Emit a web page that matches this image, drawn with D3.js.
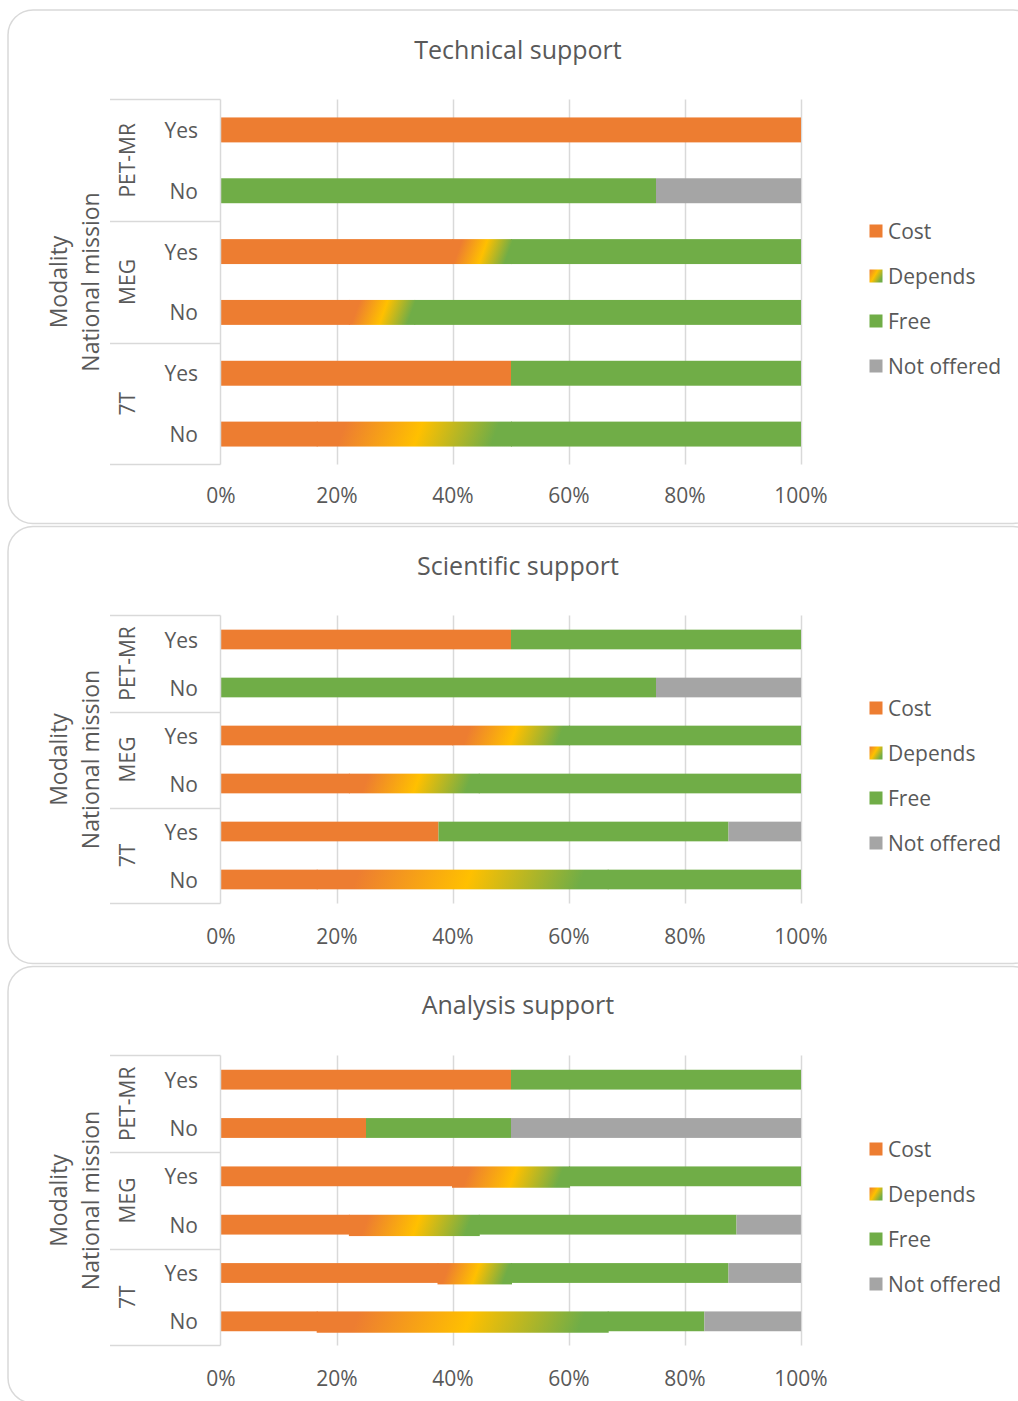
<!DOCTYPE html>
<html>
<head>
<meta charset="utf-8">
<script src="https://cdn.jsdelivr.net/npm/d3@7"></script>
<style>
  html, body { margin: 0; padding: 0; background: #fff; }
  svg { display: block; }
  text { font-family: "Open Sans", "Noto Sans", sans-serif; fill: #595959; }
</style>
</head>
<body>
<svg id="chart" width="1018" height="1401"></svg>
<script>
// ---------------- DATA ----------------
const modalities = ["PET-MR", "MEG", "7T"];
const missions = ["Yes", "No"];
const seriesNames = ["Cost", "Depends", "Free", "Not offered"];
const xTicks = [0, 20, 40, 60, 80, 100];
const xTickLabels = ["0%", "20%", "40%", "60%", "80%", "100%"];
const titles = ["Technical support", "Scientific support", "Analysis support"];
const yTitleOuter = "Modality";
const yTitleInner = "National mission";

// rows in order: PET-MR Yes, PET-MR No, MEG Yes, MEG No, 7T Yes, 7T No
const technicalCost        = [100, 0, 40, 22.22, 50, 16.67];
const technicalDepends     = [0, 0, 10, 11.11, 0, 33.33];
const technicalFree        = [0, 75, 50, 66.67, 50, 50];
const technicalNotOffered  = [0, 25, 0, 0, 0, 0];

const scientificCost       = [50, 0, 40, 22.22, 37.5, 16.67];
const scientificDepends    = [0, 0, 20, 22.22, 0, 50];
const scientificFree       = [50, 75, 40, 55.56, 50, 33.33];
const scientificNotOffered = [0, 25, 0, 0, 12.5, 0];

const analysisCost         = [50, 25, 40, 22.22, 37.5, 16.67];
const analysisDepends      = [0, 0, 20, 22.22, 12.5, 50];
const analysisFree         = [50, 25, 40, 44.44, 37.5, 16.67];
const analysisNotOffered   = [0, 50, 0, 11.11, 12.5, 16.67];

const panelSeries = [
  [technicalCost, technicalDepends, technicalFree, technicalNotOffered],
  [scientificCost, scientificDepends, scientificFree, scientificNotOffered],
  [analysisCost, analysisDepends, analysisFree, analysisNotOffered]
];

// ---------------- STYLE / LAYOUT ----------------
const COLORS = { "Cost": "#ED7D31", "Free": "#70AD47", "Not offered": "#A5A5A5" };
const ORANGE = "#ED7D31", YELLOW = "#FFC000", GREEN = "#70AD47";
const GRID = "#D9D9D9";
const LABEL_SIZE = 21, TITLE_SIZE = 25, AXIS_TITLE_SIZE = 23;

const layouts = [
  { boxTop: 10,    boxBottom: 523.5, titleY: 50,   plotTop: 99.5,  plotBottom: 464.5, tickY: 495,  legendY: 231,  dependsExtra: 0 },
  { boxTop: 526.5, boxBottom: 963.5, titleY: 566,  plotTop: 615.5, plotBottom: 903.5, tickY: 936,  legendY: 708,  dependsExtra: 0 },
  { boxTop: 966.5, boxBottom: 1403,  titleY: 1005, plotTop: 1055.5,plotBottom: 1345.5,tickY: 1378, legendY: 1149, dependsExtra: 1.5 }
];

const svg = d3.select("#chart");
const defs = svg.append("defs");
const x = d3.scaleLinear().domain([0, 100]).range([221, 801]);

const rowKeys = [];
modalities.forEach(m => missions.forEach(n => rowKeys.push(m + "|" + n)));

function addStops(g) {
  g.append("stop").attr("offset", "0").attr("stop-color", ORANGE);
  g.append("stop").attr("offset", "0.14").attr("stop-color", ORANGE);
  g.append("stop").attr("offset", "0.52").attr("stop-color", YELLOW);
  g.append("stop").attr("offset", "0.9").attr("stop-color", GREEN);
  g.append("stop").attr("offset", "1").attr("stop-color", GREEN);
}

let gradId = 0;
function makeGradient(x0, y0, w, h) {
  const theta = 20 * Math.PI / 180;
  const dx = Math.cos(theta), dy = Math.sin(theta);
  const cx = x0 + w / 2, cy = y0 + h / 2;
  const s = (w / 2) * dx + (h / 2) * dy;
  const id = "dep" + (gradId++);
  const g = defs.append("linearGradient")
    .attr("id", id)
    .attr("gradientUnits", "userSpaceOnUse")
    .attr("x1", cx - s * dx).attr("y1", cy - s * dy)
    .attr("x2", cx + s * dx).attr("y2", cy + s * dy);
  addStops(g);
  return "url(#" + id + ")";
}

layouts.forEach((L, pi) => {
  const g = svg.append("g");

  // panel box
  g.append("rect")
    .attr("x", 8).attr("y", L.boxTop)
    .attr("width", 1030).attr("height", L.boxBottom - L.boxTop)
    .attr("rx", 25).attr("ry", 25)
    .attr("fill", "#fff").attr("stroke", GRID).attr("stroke-width", 1.5);

  // title
  g.append("text")
    .attr("x", 518).attr("y", L.titleY - 1)
    .attr("text-anchor", "middle").attr("dominant-baseline", "central")
    .attr("font-size", TITLE_SIZE).text(titles[pi]);

  const y = d3.scaleBand().domain(rowKeys)
    .range([L.plotTop, L.plotBottom])
    .paddingInner(0.59).paddingOuter(0.295);

  // gridlines
  g.append("g").selectAll("line").data(xTicks.slice(1)).join("line")
    .attr("x1", d => Math.round(x(d)) + 0.5).attr("x2", d => Math.round(x(d)) + 0.5)
    .attr("y1", L.plotTop).attr("y2", L.plotBottom)
    .attr("stroke", GRID).attr("stroke-width", 1.5);

  // stacked bars
  const vals = panelSeries[pi];
  const table = rowKeys.map((k, i) => {
    const o = { key: k };
    seriesNames.forEach((s, si) => o[s] = vals[si][i]);
    return o;
  });
  const stack = d3.stack().keys(seriesNames)(table);
  const bw = y.bandwidth();
  const depRects = [];

  stack.forEach(layer => {
    const name = layer.key;
    layer.forEach(seg => {
      const v = seg[1] - seg[0];
      if (v <= 0) return;
      const x0 = x(seg[0]), w = x(seg[1]) - x(seg[0]);
      const y0 = y(seg.data.key);
      let r;
      if (name === "Depends") {
        const fill = makeGradient(x0, y0, w, bw);
        // extend by 1px each side to hide anti-aliased seams (edges are pure orange/green)
        r = g.append("rect")
          .attr("x", x0 - 1).attr("y", y0)
          .attr("width", w + 2).attr("height", bw + L.dependsExtra)
          .attr("fill", fill);
        depRects.push(r);
      } else {
        g.append("rect")
          .attr("x", x0).attr("y", y0)
          .attr("width", w).attr("height", bw)
          .attr("fill", COLORS[name]);
      }
    });
  });
  depRects.forEach(r => r.raise());

  // category axis lines
  const boundaries = [L.plotTop];
  modalities.forEach((m, i) => {
    if (i < modalities.length - 1) {
      boundaries.push(Math.round((y(m + "|No") + bw + y(modalities[i + 1] + "|Yes")) / 2) + 0.5);
    }
  });
  boundaries.push(L.plotBottom);
  g.append("g").selectAll("line").data(boundaries).join("line")
    .attr("x1", 110).attr("x2", 220.5)
    .attr("y1", d => d).attr("y2", d => d)
    .attr("stroke", GRID).attr("stroke-width", 1.5);
  g.append("line")
    .attr("x1", 220.5).attr("x2", 220.5)
    .attr("y1", L.plotTop).attr("y2", L.plotBottom)
    .attr("stroke", GRID).attr("stroke-width", 1.5);

  // mission labels
  g.append("g").selectAll("text").data(rowKeys).join("text")
    .attr("x", 198).attr("y", d => y(d) + bw / 2)
    .attr("text-anchor", "end").attr("dominant-baseline", "central")
    .attr("font-size", LABEL_SIZE)
    .text(d => d.split("|")[1]);

  // modality labels (rotated)
  g.append("g").selectAll("text").data(modalities).join("text")
    .attr("transform", m => {
      const cy = (y(m + "|Yes") + y(m + "|No") + bw) / 2;
      return "translate(127," + cy + ") rotate(-90)";
    })
    .attr("text-anchor", "middle").attr("dominant-baseline", "central")
    .attr("font-size", LABEL_SIZE)
    .text(m => m);

  // axis titles
  const midY = (L.plotTop + L.plotBottom) / 2;
  g.append("text")
    .attr("transform", "translate(58," + midY + ") rotate(-90)")
    .attr("text-anchor", "middle").attr("dominant-baseline", "central")
    .attr("font-size", AXIS_TITLE_SIZE).text(yTitleOuter);
  g.append("text")
    .attr("transform", "translate(90," + midY + ") rotate(-90)")
    .attr("text-anchor", "middle").attr("dominant-baseline", "central")
    .attr("font-size", AXIS_TITLE_SIZE).text(yTitleInner);

  // x tick labels
  g.append("g").selectAll("text").data(xTicks).join("text")
    .attr("x", d => x(d)).attr("y", L.tickY)
    .attr("text-anchor", "middle").attr("dominant-baseline", "central")
    .attr("font-size", LABEL_SIZE)
    .text((d, i) => xTickLabels[i]);

  // legend
  const lg = g.append("g");
  seriesNames.forEach((s, i) => {
    const ly = L.legendY + i * 45;
    let fill = COLORS[s];
    if (s === "Depends") {
      const id = "legdep" + pi;
      const gr = defs.append("linearGradient").attr("id", id)
        .attr("x1", "0").attr("y1", "0").attr("x2", "1").attr("y2", "0.6");
      gr.append("stop").attr("offset", "0").attr("stop-color", ORANGE);
      gr.append("stop").attr("offset", "0.5").attr("stop-color", YELLOW);
      gr.append("stop").attr("offset", "1").attr("stop-color", GREEN);
      fill = "url(#" + id + ")";
    }
    lg.append("rect").attr("x", 869.5).attr("y", ly - 6.5)
      .attr("width", 13).attr("height", 13).attr("fill", fill);
    lg.append("text").attr("x", 888).attr("y", ly)
      .attr("dominant-baseline", "central").attr("font-size", LABEL_SIZE).text(s);
  });
});
</script>
</body>
</html>
